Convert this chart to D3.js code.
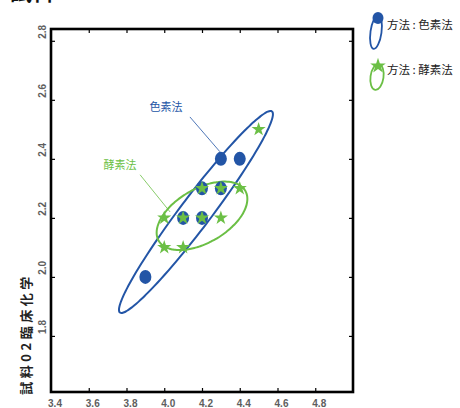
<!DOCTYPE html>
<html>
<head>
<meta charset="utf-8">
<script src="https://cdn.jsdelivr.net/npm/d3@7"></script>
<style>
  html, body { margin: 0; padding: 0; background: #fff; }
  svg { display: block; }
  .tick-label { font-family: "Liberation Sans Narrow", "Liberation Sans", Arial, sans-serif; font-size: 10px; font-weight: bold; fill: #5e5e5e; }
  .cjk { font-family: "Noto Sans CJK JP", "Noto Sans CJK SC", sans-serif; }
</style>
</head>
<body>
<svg id="chart" width="460" height="408"></svg>
<script>
// Tick values of both axes
const xTicks = [3.4, 3.6, 3.8, 4.0, 4.2, 4.4, 4.6, 4.8];
const yTicks = [1.8, 2.0, 2.2, 2.4, 2.6, 2.8];

// 色素法 (pigment method) measurements
const pigmentX = [3.9, 4.1, 4.2, 4.2, 4.3, 4.3, 4.4];
const pigmentY = [2.0, 2.2, 2.2, 2.3, 2.3, 2.4, 2.4];

// 酵素法 (enzyme method) measurements
const enzymeX = [4.0, 4.1, 4.2, 4.3, 4.0, 4.1, 4.2, 4.3, 4.4, 4.5];
const enzymeY = [2.2, 2.2, 2.2, 2.2, 2.1, 2.1, 2.3, 2.3, 2.3, 2.5];

// Confidence ellipses: centre and two conjugate half-axes, in data units
const pigmentEllipse = { cx: 4.168, cy: 2.220, ax: 0.4026, ay: 0.3407, bx: 0.0650, by: -0.0315 };
const enzymeEllipse  = { cx: 4.200, cy: 2.207, ax: 0.2294, ay: 0.0847, bx: 0.0715, by: -0.0793 };

const BLUE = "#2355a6";
const GREEN = "#6bbf45";

const svg = d3.select("#chart");
const plotL = 51, plotR = 353, plotT = 29, plotB = 392;

const x = d3.scaleLinear().domain([3.4, 5.0]).range([plotL, plotR]);
const y = d3.scaleLinear().domain([1.61, 2.84]).range([plotB, plotT]);

// heading, running off the top edge
svg.append("text").attr("class", "cjk")
  .attr("x", 10).attr("y", 0)
  .attr("font-size", 22).attr("font-weight", "bold").attr("fill", "#111")
  .text("試料1");

// inward ticks on all four sides
const tickLen = 4;
const axB = d3.axisBottom(x).tickValues(xTicks.slice(1)).tickSize(tickLen).tickFormat("");
const axT = d3.axisTop(x).tickValues(xTicks.slice(1)).tickSize(tickLen).tickFormat("");
const axL = d3.axisLeft(y).tickValues(yTicks).tickSize(tickLen).tickFormat("");
const axR = d3.axisRight(y).tickValues(yTicks).tickSize(tickLen).tickFormat("");
svg.append("g").attr("transform", `translate(0,${plotB - tickLen})`).call(axB);
svg.append("g").attr("transform", `translate(0,${plotT + tickLen})`).call(axT);
svg.append("g").attr("transform", `translate(${plotL + tickLen},0)`).call(axL);
svg.append("g").attr("transform", `translate(${plotR - tickLen},0)`).call(axR);
svg.selectAll(".domain").remove();
svg.selectAll(".tick line").attr("stroke", "#000").attr("stroke-width", 1.2);

// frame
svg.append("rect")
  .attr("x", plotL).attr("y", plotT)
  .attr("width", plotR - plotL).attr("height", plotB - plotT)
  .attr("fill", "none").attr("stroke", "#000").attr("stroke-width", 2.6);

// tick labels
svg.append("g").selectAll("text").data(xTicks).join("text")
  .attr("class", "tick-label")
  .attr("x", d => x(d) + 4).attr("y", 407)
  .attr("text-anchor", "middle")
  .text(d => d.toFixed(1));

svg.append("g").selectAll("text").data(yTicks).join("text")
  .attr("class", "tick-label")
  .attr("transform", d => `translate(46,${y(d) - 9}) rotate(-90)`)
  .attr("text-anchor", "middle")
  .text(d => d.toFixed(1));

// y-axis title
svg.append("text").attr("class", "cjk")
  .attr("transform", "translate(31,334) rotate(-90)")
  .attr("text-anchor", "middle")
  .attr("font-size", 13).attr("font-weight", "bold").attr("fill", "#222")
  .attr("letter-spacing", 3.5)
  .text("試料02臨床化学");

// ellipse outline from conjugate half-axes
function ellipsePath(e) {
  const pts = d3.range(0, 360, 3).map(deg => {
    const t = deg * Math.PI / 180;
    return [x(e.cx + e.ax * Math.cos(t) + e.bx * Math.sin(t)),
            y(e.cy + e.ay * Math.cos(t) + e.by * Math.sin(t))];
  });
  return d3.line().curve(d3.curveCardinalClosed)(pts);
}

svg.append("path").attr("d", ellipsePath(pigmentEllipse))
  .attr("fill", "none").attr("stroke", BLUE).attr("stroke-width", 2);
svg.append("path").attr("d", ellipsePath(enzymeEllipse))
  .attr("fill", "none").attr("stroke", GREEN).attr("stroke-width", 2);

// pigment points
svg.append("g").selectAll("ellipse").data(d3.range(pigmentX.length)).join("ellipse")
  .attr("cx", i => x(pigmentX[i])).attr("cy", i => y(pigmentY[i]))
  .attr("rx", 6).attr("ry", 7)
  .attr("fill", BLUE);

// enzyme points
const star = d3.symbol().type(d3.symbolStar).size(62);
svg.append("g").selectAll("path").data(d3.range(enzymeX.length)).join("path")
  .attr("transform", i => `translate(${x(enzymeX[i])},${y(enzymeY[i])})`)
  .attr("d", star)
  .attr("fill", GREEN);

// callout labels
const callouts = [
  { text: "色素法", color: BLUE, lx: 4.009, ly: 2.576, x1: 4.136, y1: 2.542, x2: 4.295, y2: 2.424 },
  { text: "酵素法", color: GREEN, lx: 3.766, ly: 2.380, x1: 3.872, y1: 2.346, x2: 4.031, y2: 2.220 }
];
callouts.forEach(c => {
  svg.append("line")
    .attr("x1", x(c.x1)).attr("y1", y(c.y1))
    .attr("x2", x(c.x2)).attr("y2", y(c.y2))
    .attr("stroke", c.color).attr("stroke-width", 0.8);
  svg.append("text").attr("class", "cjk")
    .attr("x", x(c.lx)).attr("y", y(c.ly) + 4)
    .attr("text-anchor", "middle")
    .attr("font-size", 11).attr("fill", c.color)
    .text(c.text);
});

// legend
const lg = svg.append("g");
lg.append("ellipse")
  .attr("transform", "translate(376,32) rotate(8)")
  .attr("rx", 5.5).attr("ry", 17)
  .attr("fill", "none").attr("stroke", BLUE).attr("stroke-width", 1.8);
lg.append("ellipse").attr("cx", 378).attr("cy", 18).attr("rx", 5.5).attr("ry", 6).attr("fill", BLUE);
lg.append("text").attr("class", "cjk")
  .attr("x", 387).attr("y", 29).attr("font-size", 11.5).attr("fill", "#222")
  .text("方法 : 色素法");

const legendStar = d3.symbol().type(d3.symbolStar).size(75);
lg.append("ellipse")
  .attr("transform", "translate(377,77) rotate(8)")
  .attr("rx", 6.5).attr("ry", 13)
  .attr("fill", "none").attr("stroke", GREEN).attr("stroke-width", 1.8);
lg.append("path").attr("transform", "translate(378,66)").attr("d", legendStar).attr("fill", GREEN);
lg.append("text").attr("class", "cjk")
  .attr("x", 387).attr("y", 74).attr("font-size", 11.5).attr("fill", "#222")
  .text("方法 : 酵素法");
</script>
</body>
</html>
